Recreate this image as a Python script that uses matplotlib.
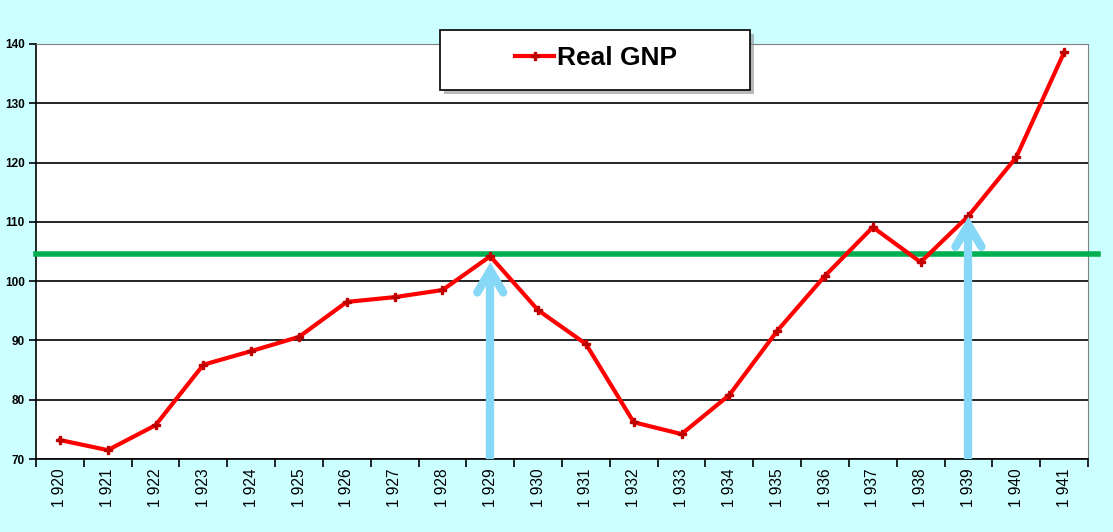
import matplotlib
matplotlib.use('Agg')
import matplotlib.pyplot as plt
from matplotlib.patches import Rectangle

plt.rcParams['font.family'] = ['Liberation Sans', 'DejaVu Sans']

years = list(range(1920, 1942))
year_labels = [f"{y // 1000} {y % 1000:03d}" for y in years]
real_gnp = [73.2, 71.5, 75.7, 85.9, 88.2, 90.6, 96.5, 97.3, 98.5, 104.2, 95.1,
            89.4, 76.2, 74.2, 80.8, 91.6, 100.9, 109.1, 103.2, 111.0, 120.9, 138.6]
peak_level = 104.6
arrow_years = [1929, 1939]
arrow_tips = [101.8, 109.5]

W, H = 1113, 532
bg = '#ccffff'
fig = plt.figure(figsize=(W / 100, H / 100), dpi=100, facecolor=bg)
ax = fig.add_axes([36 / W, 1 - 459 / H, 1052 / W, 415 / H])
ax.set_facecolor('white')

xs = list(range(len(years)))
ax.set_xlim(-0.5, len(years) - 0.5)
ax.set_ylim(70, 140)
ax.set_yticks(range(70, 141, 10))
ax.yaxis.grid(True, color='black', linewidth=1.2)
ax.set_axisbelow(True)

# category boundaries as major ticks, labels centred on minor ticks
ax.set_xticks([x - 0.5 for x in xs] + [len(years) - 0.5])
ax.set_xticklabels([])
ax.set_xticks(xs, minor=True)
ax.set_xticklabels(year_labels, minor=True, rotation=90, fontsize=11.2)
ax.tick_params(axis='x', which='major', direction='out', length=6, width=1.2, color='black')
ax.tick_params(axis='x', which='minor', length=0, pad=7)
ax.tick_params(axis='y', direction='out', length=5, width=1.2, labelsize=8.5, pad=3)
for lab in ax.get_yticklabels():
    lab.set_fontweight('bold')

for s in ['top', 'right']:
    ax.spines[s].set_color('#808080')
for s in ['left', 'bottom']:
    ax.spines[s].set_color('black')
    ax.spines[s].set_linewidth(1.2)

# green reference line at the 1929 level
ax.plot([-0.5, len(years) - 0.3], [peak_level, peak_level], color='#00b050',
        linewidth=4, clip_on=False, zorder=3)

line, = ax.plot(xs, real_gnp, color='red', linewidth=3, marker='P', markersize=5.5,
                markerfacecolor='#c00000', markeredgecolor='#c00000', zorder=4,
                label='Real GNP')

# blue arrows (shaft plus open chevron head)
px_x = 1052 / len(years)   # pixels per category
px_y = 415 / 70            # pixels per unit
for yr, tip in zip(arrow_years, arrow_tips):
    xi = years.index(yr)
    ax.plot([xi, xi], [70, tip - 0.5], color='#87d7f7', linewidth=6,
            solid_capstyle='butt', zorder=5)
    dx, dy = 13 / px_x, 22 / px_y
    ax.plot([xi - dx, xi, xi + dx], [tip - dy, tip, tip - dy], color='#87d7f7',
            linewidth=6, solid_capstyle='round', solid_joinstyle='miter', zorder=5)

# legend box with shadow
bx, by, bw, bh = 440 / W, 1 - 90 / H, 310 / W, 60 / H
fig.patches.append(Rectangle((bx + 4 / W, by - 4 / H), bw, bh, transform=fig.transFigure,
                             facecolor='#8c8c8c', edgecolor='none', alpha=0.6, zorder=1))
fig.patches.append(Rectangle((bx, by), bw, bh, transform=fig.transFigure,
                             facecolor='white', edgecolor='black', linewidth=1.2, zorder=2))
leg = fig.legend(handles=[line], loc='center', bbox_to_anchor=(596 / W, 1 - 58 / H),
                 frameon=False, prop={'weight': 'bold', 'size': 19},
                 handlelength=1.5, handletextpad=0.1, borderaxespad=0)
leg.set_zorder(3)

fig.savefig('out.png', dpi=100, facecolor=bg)
